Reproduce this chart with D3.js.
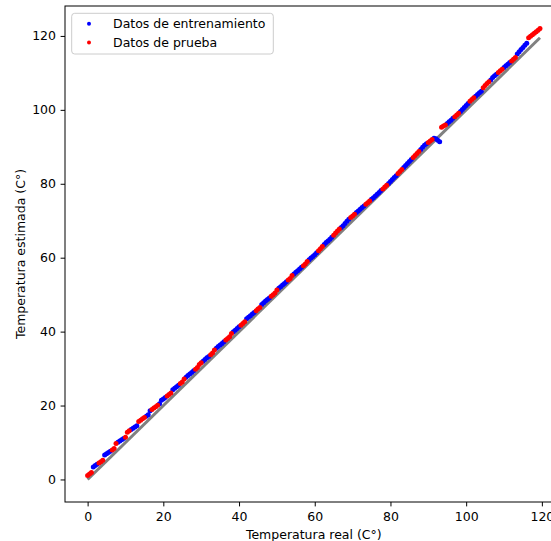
<!DOCTYPE html>
<html>
<head>
<meta charset="utf-8">
<script src="https://cdn.jsdelivr.net/npm/d3@7/dist/d3.min.js"></script>
<style>
  html, body { margin: 0; padding: 0; background: #fff; }
  svg text { font-family: "DejaVu Sans", sans-serif; fill: #000; }
</style>
</head>
<body>
<svg id="chart" width="551" height="541"></svg>
<script>
// Temperatura real (x) vs temperatura estimada (y) por el modelo
const entrenamiento = [
  [1.5,3.4],[2,3.75],[2.5,4.1],[4.5,6.6],[5,6.95],[5.5,7.3],[6,7.65],
  [8,10.05],[8.5,10.4],[9,10.75],[9.5,11.1],[11.5,13.5],[12,13.85],[12.5,14.2],[13,14.55],
  [15.5,17.1],[16,17.5],[16.5,18.6],[19,20.5],[19.5,21.4],[20,21.8],[20.5,22.2],
  [22.5,24.3],[23,24.7],[23.5,25.1],[24,25.5],[26,27.65],[26.5,28.1],[27,28.5],[27.5,28.95],[28,29.4],
  [30.5,32],[31,32.45],[31.5,32.9],[32,33.3],[34,35.5],[34.5,35.95],[35,36.35],[35.5,36.8],[36,37.25],
  [38.5,39.95],[39,40.4],[39.5,40.85],[40,41.3],[42,43.45],[42.5,43.9],[43,44.3],[43.5,44.75],[44,45.2],
  [46,47.35],[46.5,47.8],[47,48.25],[47.5,48.7],[48,49.1],[50.5,51.7],[51,52.15],[51.5,52.6],[52,53.05],[52.5,53.5],
  [54.5,55.6],[55,56.05],[55.5,56.5],[56,56.95],[56.5,57.4],[58.5,59.45],[59,59.9],[59.5,60.35],[60,60.8],[60.5,61.35],
  [62.5,63.55],[63,64.1],[63.5,64.55],[64,65],[64.5,65.55],[67,68.2],[67.5,68.65],[68,69.25],[68.5,69.85],[69,70.4],
  [71,72.2],[71.5,72.65],[72,73.1],[72.5,73.55],[73,74],[75,75.8],[75.5,76.25],[76,76.7],[76.5,77.2],[77,77.65],[77.5,78.15],
  [79.5,80.1],[80,80.6],[80.5,81.15],[81,81.7],[81.5,82.2],[83.5,84.4],[84,84.95],[84.5,85.5],[85,86],[85.5,86.55],
  [88,89.3],[88.5,89.85],[89,90.4],[89.5,90.8],[91.5,92.3],[92,92.2],[92.5,91.8],[93,91.4],
  [95,96.3],[95.5,96.75],[96,97.2],[96.5,97.7],[98.5,99.55],[99,100.1],[99.5,100.65],[100,101.2],[100.5,101.75],
  [102.5,103.7],[103,104.15],[103.5,104.6],[104,105.05],[106.5,108.05],[107,108.75],[107.5,109.2],[108,109.65],
  [110,111.45],[110.5,111.9],[111,112.35],[111.5,112.8],[113.5,115.1],[114,115.7],[114.5,116.3],[115,116.9],[115.5,117.5],[116,118]
];
const prueba = [
  [0,1.1],[0.5,1.5],[1,1.9],[3,4.45],[3.5,4.8],[4,5.2],[6.5,8],[7,8.35],[7.5,9.7],
  [10,11.45],[10.5,12.8],[11,13.15],[13.5,15.7],[14,16.05],[14.5,16.4],[15,16.75],
  [17,18.95],[17.5,19.3],[18,19.7],[18.5,20.1],[21,22.6],[21.5,23],[22,23.4],
  [24.5,25.95],[25,26.4],[25.5,27.2],[28.5,29.85],[29,30.3],[29.5,31.1],[30,31.55],
  [32.5,33.75],[33,34.2],[33.5,35.05],[36.5,37.7],[37,38.15],[37.5,38.6],[38,39.5],
  [40.5,41.75],[41,42.2],[41.5,42.65],[44.5,45.65],[45,46.1],[45.5,46.55],
  [48.5,49.55],[49,50],[49.5,50.45],[50,51.25],[53,53.95],[53.5,54.4],[54,55.15],
  [57,57.85],[57.5,58.3],[58,59],[61,61.9],[61.5,62.45],[62,63],
  [65,66.1],[65.5,66.65],[66,67.2],[66.5,67.75],[69.5,70.85],[70,71.3],[70.5,71.75],
  [73.5,74.45],[74,74.9],[74.5,75.35],[78,78.6],[78.5,79.1],[79,79.6],
  [82,82.75],[82.5,83.3],[83,83.85],[86,87.1],[86.5,87.65],[87,88.2],[87.5,88.75],
  [90,91.2],[90.5,91.6],[91,92],[93.5,95.3],[94,95.6],[94.5,95.9],
  [97,98.15],[97.5,98.6],[98,99.1],[101,102.3],[101.5,102.8],[102,103.25],
  [104.5,106],[105,106.6],[105.5,107.15],[106,107.6],[108.5,110.1],[109,110.55],[109.5,111],
  [112,113.25],[112.5,113.7],[113,114.15],
  [116.5,119.5],[117,119.9],[117.5,120.3],[118,120.7],[118.5,121.1],[119,121.55],[119.5,122]
];
const ticksX = [0, 20, 40, 60, 80, 100, 120];
const ticksY = [0, 20, 40, 60, 80, 100, 120];
const etiquetas = ["Datos de entrenamiento", "Datos de prueba"];
const colores = ["#0000ff", "#ff0000"];

const svg = d3.select("#chart");
const plot = { left: 65, top: 6, right: 562.6, bottom: 502 };

// Línea ideal y = x sobre el rango de temperaturas reales
const todos = entrenamiento.concat(prueba);
const rangoReal = d3.extent(todos, d => d[0]);
const ideal = [[rangoReal[0], rangoReal[0]], [rangoReal[1], rangoReal[1]]];

// Límites con 5% de margen, incluyendo la línea ideal
function conMargen(ext) {
  const m = (ext[1] - ext[0]) * 0.05;
  return [ext[0] - m, ext[1] + m];
}
const extX = d3.extent(todos.concat(ideal), d => d[0]);
const extY = d3.extent(todos.concat(ideal), d => d[1]);

const x = d3.scaleLinear().domain(conMargen(extX)).range([plot.left, plot.right]);
const y = d3.scaleLinear().domain(conMargen(extY)).range([plot.bottom, plot.top]);

// Línea ideal
svg.append("path")
  .datum(ideal)
  .attr("d", d3.line().x(d => x(d[0])).y(d => y(d[1])))
  .attr("fill", "none")
  .attr("stroke", "#808080")
  .attr("stroke-width", 3);

// Puntos
[entrenamiento, prueba].forEach((serie, i) => {
  svg.append("g")
    .selectAll("circle")
    .data(serie)
    .join("circle")
    .attr("cx", d => x(d[0]))
    .attr("cy", d => y(d[1]))
    .attr("r", 2.5)
    .attr("fill", colores[i]);
});

// Marco de los ejes
svg.append("rect")
  .attr("x", plot.left).attr("y", plot.top)
  .attr("width", plot.right - plot.left).attr("height", plot.bottom - plot.top)
  .attr("fill", "none").attr("stroke", "#000").attr("stroke-width", 1);

// Ejes
const ejeX = svg.append("g")
  .attr("transform", `translate(0,${plot.bottom})`)
  .call(d3.axisBottom(x).tickValues(ticksX).tickFormat(d3.format("d"))
    .tickSize(4.4).tickSizeOuter(0).tickPadding(6));
const ejeY = svg.append("g")
  .attr("transform", `translate(${plot.left},0)`)
  .call(d3.axisLeft(y).tickValues(ticksY).tickFormat(d3.format("d"))
    .tickSize(4.4).tickSizeOuter(0).tickPadding(4.6));
[ejeX, ejeY].forEach(g => {
  g.select(".domain").remove();
  g.selectAll("line").attr("stroke", "#000").attr("stroke-width", 1);
  g.selectAll("text").attr("font-size", "12.5px").attr("font-family", "DejaVu Sans").attr("fill", "#000");
});

// Títulos de los ejes
svg.append("text")
  .attr("x", (plot.left + plot.right) / 2)
  .attr("y", 535)
  .attr("dy", "0.35em")
  .attr("text-anchor", "middle")
  .attr("font-size", "12.5px")
  .text("Temperatura real (C°)");
svg.append("text")
  .attr("transform", `translate(20.7,${(plot.top + plot.bottom) / 2}) rotate(-90)`)
  .attr("dy", "0.35em")
  .attr("text-anchor", "middle")
  .attr("font-size", "12.5px")
  .text("Temperatura estimada (C°)");

// Leyenda
const ley = svg.append("g");
ley.append("rect")
  .attr("x", 71.7).attr("y", 13.3).attr("width", 201.6).attr("height", 40.7)
  .attr("rx", 3).attr("fill", "#fff").attr("fill-opacity", 0.8)
  .attr("stroke", "#cccccc").attr("stroke-width", 1);
etiquetas.forEach((t, i) => {
  const cy = 23.8 + i * 18.8;
  ley.append("circle").attr("cx", 89).attr("cy", cy).attr("r", 2).attr("fill", colores[i]);
  ley.append("text").attr("x", 113).attr("y", cy).attr("dy", "0.35em")
    .attr("font-size", "12.5px").text(t);
});
</script>
</body>
</html>
